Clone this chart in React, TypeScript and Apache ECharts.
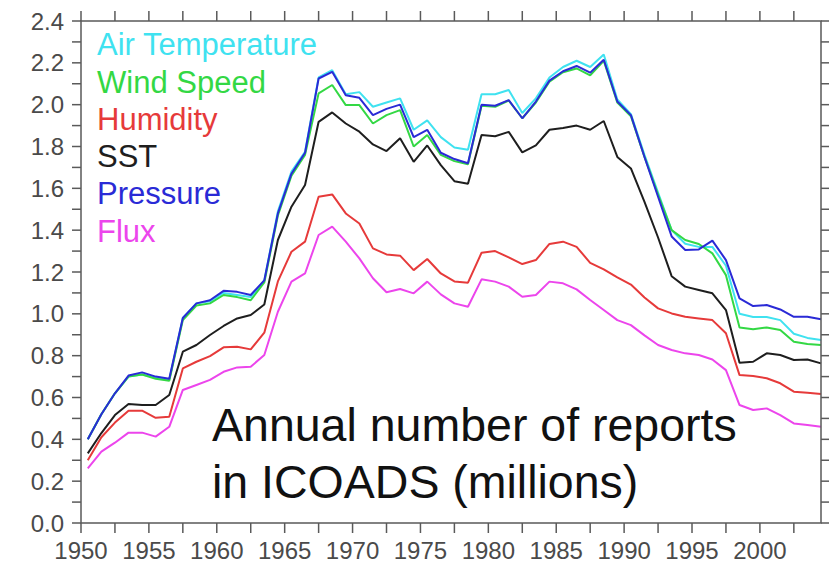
import React, { useEffect, useRef } from "react";
import * as echarts from "echarts";

const years = [
  1950, 1951, 1952, 1953, 1954, 1955, 1956, 1957, 1958, 1959,
  1960, 1961, 1962, 1963, 1964, 1965, 1966, 1967, 1968, 1969,
  1970, 1971, 1972, 1973, 1974, 1975, 1976, 1977, 1978, 1979,
  1980, 1981, 1982, 1983, 1984, 1985, 1986, 1987, 1988, 1989,
  1990, 1991, 1992, 1993, 1994, 1995, 1996, 1997, 1998, 1999,
  2000, 2001, 2002, 2003, 2004,
];

const airTemperature = [
  0.40, 0.52, 0.62, 0.70, 0.71, 0.695, 0.685, 0.98, 1.05, 1.06,
  1.10, 1.09, 1.08, 1.16, 1.49, 1.68, 1.775, 2.13, 2.165, 2.05,
  2.06, 1.99, 2.01, 2.03, 1.88, 1.925, 1.845, 1.795, 1.785, 2.05,
  2.05, 2.07, 1.96, 2.03, 2.13, 2.18, 2.21, 2.18, 2.24, 2.025,
  1.955, 1.76, 1.58, 1.40, 1.335, 1.32, 1.32, 1.23, 1.0, 0.985,
  0.985, 0.97, 0.905, 0.885, 0.875,
];

const windSpeed = [
  0.40, 0.52, 0.62, 0.70, 0.71, 0.69, 0.68, 0.97, 1.04, 1.05,
  1.09, 1.08, 1.065, 1.15, 1.47, 1.66, 1.76, 2.054, 2.094, 1.998,
  1.998, 1.91, 1.95, 1.974, 1.80, 1.855, 1.76, 1.73, 1.715, 1.995,
  1.99, 2.02, 1.935, 2.01, 2.11, 2.155, 2.173, 2.14, 2.21, 2.01,
  1.945, 1.75, 1.57, 1.40, 1.353, 1.334, 1.289, 1.185, 0.935, 0.926,
  0.935, 0.923, 0.867, 0.856, 0.851,
];

const humidity = [
  0.30, 0.41, 0.48, 0.537, 0.537, 0.503, 0.508, 0.739, 0.771, 0.798,
  0.84, 0.843, 0.83, 0.91, 1.155, 1.297, 1.345, 1.56, 1.571, 1.48,
  1.432, 1.313, 1.284, 1.278, 1.209, 1.262, 1.193, 1.155, 1.149, 1.292,
  1.30, 1.27, 1.238, 1.257, 1.334, 1.345, 1.32, 1.244, 1.213, 1.174,
  1.14, 1.078, 1.026, 1.002, 0.986, 0.978, 0.97, 0.907, 0.707, 0.703,
  0.692, 0.668, 0.628, 0.623, 0.617,
];

const sst = [
  0.333, 0.43, 0.516, 0.569, 0.564, 0.564, 0.612, 0.819, 0.851, 0.899,
  0.942, 0.978, 0.994, 1.045, 1.353, 1.512, 1.616, 1.918, 1.963, 1.91,
  1.871, 1.81, 1.778, 1.839, 1.727, 1.805, 1.711, 1.634, 1.622, 1.855,
  1.849, 1.87, 1.772, 1.805, 1.88, 1.888, 1.90, 1.88, 1.922, 1.75,
  1.695, 1.535, 1.365, 1.18, 1.13, 1.114, 1.098, 1.018, 0.766, 0.771,
  0.811, 0.803, 0.779, 0.782, 0.763,
];

const pressure = [
  0.40, 0.52, 0.62, 0.705, 0.72, 0.70, 0.69, 0.98, 1.05, 1.065,
  1.11, 1.105, 1.09, 1.16, 1.48, 1.67, 1.77, 2.125, 2.157, 2.045,
  2.033, 1.95, 1.98, 2.0, 1.845, 1.88, 1.77, 1.74, 1.72, 2.0,
  1.995, 2.022, 1.935, 2.015, 2.115, 2.16, 2.185, 2.153, 2.215, 2.015,
  1.95, 1.75, 1.56, 1.37, 1.305, 1.308, 1.35, 1.257, 1.074, 1.037,
  1.042, 1.021, 0.986, 0.986, 0.974,
];

const flux = [
  0.261, 0.341, 0.384, 0.432, 0.432, 0.413, 0.46, 0.636, 0.66, 0.684,
  0.723, 0.744, 0.747, 0.803, 1.01, 1.154, 1.193, 1.377, 1.417, 1.345,
  1.265, 1.17, 1.103, 1.119, 1.098, 1.154, 1.093, 1.05, 1.034, 1.165,
  1.154, 1.13, 1.082, 1.09, 1.154, 1.146, 1.117, 1.066, 1.018, 0.97,
  0.946, 0.897, 0.851, 0.827, 0.811, 0.803, 0.782, 0.731, 0.564, 0.54,
  0.548, 0.516, 0.476, 0.468, 0.46,
];

// tick positions (ticks every 2.5 years, every 0.1 million)
const xTickValues = [
  1950, 1952.5, 1955, 1957.5, 1960, 1962.5, 1965, 1967.5, 1970, 1972.5,
  1975, 1977.5, 1980, 1982.5, 1985, 1987.5, 1990, 1992.5, 1995, 1997.5,
  2000, 2002.5,
];
const yTickValues = [
  0, 0.1, 0.2, 0.3, 0.4, 0.5, 0.6, 0.7, 0.8, 0.9, 1.0, 1.1, 1.2,
  1.3, 1.4, 1.5, 1.6, 1.7, 1.8, 1.9, 2.0, 2.1, 2.2, 2.3, 2.4,
];

const seriesDefs = [
  { name: "Air Temperature", data: airTemperature, color: "#3fe2f0" },
  { name: "Wind Speed", data: windSpeed, color: "#33d844" },
  { name: "Humidity", data: humidity, color: "#e63a3a" },
  { name: "SST", data: sst, color: "#1e1e1e" },
  { name: "Pressure", data: pressure, color: "#2a2ad6" },
  { name: "Flux", data: flux, color: "#ec45ec" },
];

const FONT = "'Liberation Sans', Arial, Helvetica, sans-serif";
const AXIS_COLOR = "#5a5a5a";
const LABEL_COLOR = "#4a4a4a";
const X_MIN = 1950;
const X_MAX = 2004.5;
const Y_MIN = 0;
const Y_MAX = 2.4;

export default function App() {
  const ref = useRef<HTMLDivElement>(null);

  useEffect(() => {
    if (!ref.current) return;
    const chart = echarts.init(ref.current, null, { renderer: "svg" });

    // frame + tick marks: kind 0 bottom, 1 top, 2 left, 3 right, 4 frame
    const frameData: number[][] = [];
    xTickValues.forEach((v) => {
      frameData.push([v, Y_MIN, 0]);
      frameData.push([v, Y_MAX, 1]);
    });
    yTickValues.forEach((v) => {
      frameData.push([X_MIN, v, 2]);
      frameData.push([X_MAX, v, 3]);
    });
    frameData.push([X_MIN, Y_MIN, 4]);

    const legendTexts = seriesDefs.map((s, k) => ({
      type: "text",
      x: 97,
      y: 44.7 + k * 37.3,
      silent: true,
      style: {
        text: s.name,
        fontFamily: FONT,
        fontSize: 31,
        fill: s.color,
        align: "left",
        verticalAlign: "middle",
      },
    }));

    const option: any = {
      animation: false,
      backgroundColor: "#ffffff",
      textStyle: { fontFamily: FONT },
      grid: { left: 81, right: 8, top: 21, bottom: 42, containLabel: false },
      xAxis: {
        type: "value",
        min: X_MIN,
        max: X_MAX,
        interval: 2.5,
        splitLine: { show: false },
        axisLine: { show: false, onZero: false },
        axisTick: { show: false },
        axisLabel: {
          margin: 15,
          fontSize: 24,
          color: LABEL_COLOR,
          formatter: (v: number) => (v % 5 === 0 ? String(v) : ""),
        },
      },
      yAxis: {
        type: "value",
        min: Y_MIN,
        max: Y_MAX,
        interval: 0.1,
        splitLine: { show: false },
        axisLine: { show: false, onZero: false },
        axisTick: { show: false },
        axisLabel: {
          margin: 17,
          fontSize: 24,
          color: LABEL_COLOR,
          formatter: (v: number) => (Math.round(v * 10) % 2 === 0 ? v.toFixed(1) : ""),
        },
      },
      graphic: [
        ...legendTexts,
        {
          type: "text",
          left: 212,
          top: 396,
          silent: true,
          style: {
            text: "Annual number of reports\nin ICOADS (millions)",
            fontFamily: FONT,
            fontSize: 46.5,
            lineHeight: 57,
            fill: "#111111",
          },
        },
      ],
      series: [
        ...seriesDefs.map((s) => ({
          name: s.name,
          type: "line",
          showSymbol: false,
          symbol: "none",
          color: s.color,
          lineStyle: { color: s.color, width: 2 },
          data: years.map((y, i) => [y + 0.5, s.data[i]]),
        })),
        {
          type: "custom",
          name: "frame",
          silent: true,
          clip: false,
          z: 5,
          dimensions: ["x", "y", "kind"],
          encode: { x: 0, y: 1 },
          data: frameData,
          renderItem: (params: any, api: any) => {
            const kind = api.value(2);
            const p = api.coord([api.value(0), api.value(1)]);
            const cs = params.coordSys;
            const style = { stroke: AXIS_COLOR, lineWidth: 1.5, fill: null };
            if (kind === 4) {
              return {
                type: "rect",
                shape: { x: cs.x, y: cs.y, width: cs.width, height: cs.height },
                style: { stroke: AXIS_COLOR, lineWidth: 1.5, fill: "none" },
              };
            }
            let shape: any;
            if (kind === 0) shape = { x1: p[0], y1: p[1], x2: p[0], y2: p[1] + 10 };
            else if (kind === 1) shape = { x1: p[0], y1: p[1], x2: p[0], y2: p[1] - 10 };
            else if (kind === 2) shape = { x1: p[0], y1: p[1], x2: p[0] - 9, y2: p[1] };
            else shape = { x1: p[0], y1: p[1], x2: p[0] + 8, y2: p[1] };
            return { type: "line", shape, style };
          },
        },
      ],
    };
    chart.setOption(option);
    return () => chart.dispose();
  }, []);

  return (
    <div style={{ position: "absolute", left: 0, top: 0 }}>
      <div ref={ref} style={{ width: 829, height: 565 }} />
    </div>
  );
}
